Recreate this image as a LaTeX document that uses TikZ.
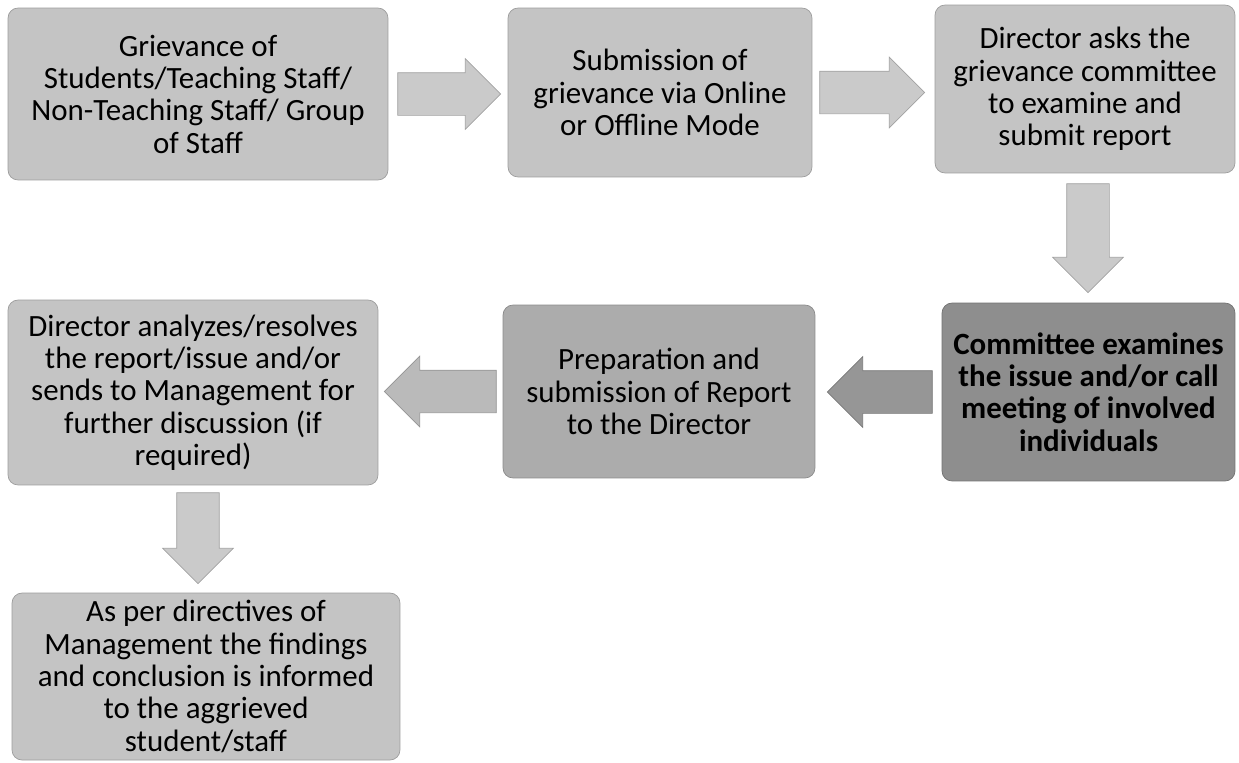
\documentclass[tikz,border=0pt]{standalone}
\usepackage{fontspec}
\setmainfont{Carlito}
\usetikzlibrary{shapes.arrows,calc}

\definecolor{lightbox}{RGB}{196,196,196}
\definecolor{darkbox}{RGB}{142,142,142}
\definecolor{midbox}{RGB}{172,172,172}
\definecolor{lightarrow}{RGB}{202,202,202}
\definecolor{midarrow}{RGB}{186,186,186}
\definecolor{darkarrow}{RGB}{150,150,150}

\begin{document}
\begin{tikzpicture}[x=0.02cm,y=-0.02cm,
  box/.style={rounded corners=0.2cm,draw=#1!80!black,fill=#1,align=center,
    inner sep=0pt,text=black,font=\fontsize{17.6}{18.4}\selectfont},
  fat/.style={single arrow,draw=#1!80!black,fill=#1,anchor=tail,
    single arrow head extend=0.28cm},
  across/.style={inner xsep=0pt,inner ysep=0.42cm},
  downward/.style={shape border rotate=270,inner xsep=0.42cm,inner ysep=0pt}]
\useasboundingbox (0,0) rectangle (1239,762);

\node[box=lightbox,minimum width=7.6cm,minimum height=3.44cm] (grv) at (198,94)
  {Grievance of\\Students/Teaching Staff/\\Non-Teaching Staff/ Group\\of Staff};
\node[box=lightbox,minimum width=6.08cm,minimum height=3.38cm] (sub) at (660,92.5)
  {Submission of\\grievance via Online\\or Offline Mode};
\node[box=lightbox,minimum width=6.0cm,minimum height=3.36cm] (ask) at (1085,89)
  {Director asks the\\grievance committee\\to examine and\\submit report};
\node[box=darkbox,minimum width=5.86cm,minimum height=3.56cm,
  font=\fontsize{17.6}{18.4}\selectfont\bfseries] (exa) at (1088.5,392)
  {Committee examines\\the issue and/or call\\meeting of involved\\individuals};
\node[box=midbox,minimum width=6.24cm,minimum height=3.46cm] (rep) at (659,391.5)
  {Preparation and\\submission of Report\\to the Director};
\node[box=lightbox,minimum width=7.4cm,minimum height=3.7cm] (res) at (193,392.5)
  {Director analyzes/resolves\\the report/issue and/or\\sends to Management for\\further discussion (if\\required)};
\node[box=lightbox,minimum width=7.76cm,minimum height=3.34cm] (inf) at (206,676.5)
  {As per directives of\\Management the findings\\and conclusion is informed\\to the aggrieved\\student/staff};

\node[fat=lightarrow,across,minimum height=2.06cm] (a1) at ($(grv.east)+(9,0)$) {};
\node[fat=lightarrow,across,minimum height=2.1cm] (a2) at ($(sub.east)+(7,0)$) {};
\node[fat=lightarrow,downward,minimum height=2.18cm] (a3) at ($(ask.south)+(3,10)$) {};
\node[fat=darkarrow,across,minimum height=2.1cm,shape border rotate=180] (a4) at ($(exa.west)+(-9,0)$) {};
\node[fat=midarrow,across,minimum height=2.24cm,shape border rotate=180] (a5) at ($(rep.west)+(-6,0)$) {};
\node[fat=lightarrow,downward,minimum height=1.82cm] (a6) at ($(res.south)+(5,7)$) {};
\end{tikzpicture}
\end{document}
